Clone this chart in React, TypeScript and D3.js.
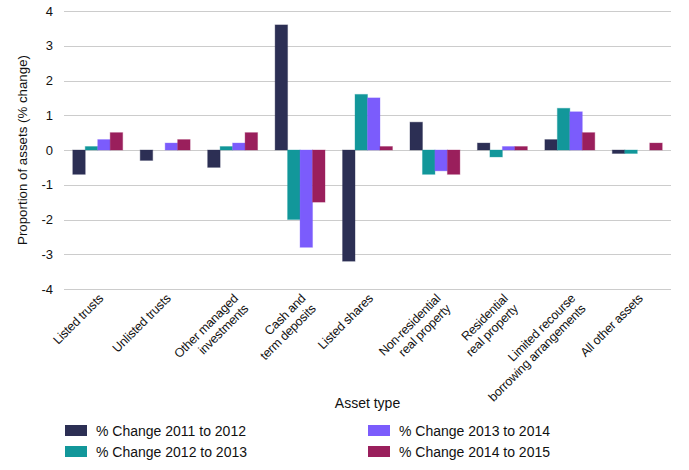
import { useEffect, useRef } from "react";
import * as d3 from "d3";

const categories = [
  "Listed trusts",
  "Unlisted trusts",
  "Other managed\ninvestments",
  "Cash and\nterm deposits",
  "Listed shares",
  "Non-residential\nreal property",
  "Residential\nreal property",
  "Limited recourse\nborrowing arrangements",
  "All other assets",
];

const seriesNames = [
  "% Change 2011 to 2012",
  "% Change 2012 to 2013",
  "% Change 2013 to 2014",
  "% Change 2014 to 2015",
];

const change2011to2012 = [-0.7, -0.3, -0.5, 3.6, -3.2, 0.8, 0.2, 0.3, -0.1];
const change2012to2013 = [0.1, 0, 0.1, -2.0, 1.6, -0.7, -0.2, 1.2, -0.1];
const change2013to2014 = [0.3, 0.2, 0.2, -2.8, 1.5, -0.6, 0.1, 1.1, 0];
const change2014to2015 = [0.5, 0.3, 0.5, -1.5, 0.1, -0.7, 0.1, 0.5, 0.2];

const seriesValues = [change2011to2012, change2012to2013, change2013to2014, change2014to2015];
const colors = ["#2c2f54", "#12979a", "#7b5cfc", "#9a1f5c"];
const yTicks = [-4, -3, -2, -1, 0, 1, 2, 3, 4];

export default function App() {
  const svgRef = useRef<SVGSVGElement>(null);

  useEffect(() => {
    if (!svgRef.current) return;
    const svg = d3.select(svgRef.current);
    svg.selectAll("*").remove();

    const font = "'Liberation Sans', Arial, Helvetica, sans-serif";
    const left = 64, right = 671, top = 11, bottom = 289;

    const x0 = d3.scaleBand<string>()
      .domain(categories)
      .range([left, right])
      .paddingInner(0.26)
      .paddingOuter(0.13);

    const x1 = d3.scaleBand<string>()
      .domain(seriesNames)
      .range([0, x0.bandwidth()]);

    const y = d3.scaleLinear().domain([-4, 4]).range([bottom, top]);

    // gridlines
    svg.append("g")
      .selectAll("line")
      .data(yTicks)
      .enter()
      .append("line")
      .attr("x1", left)
      .attr("x2", right)
      .attr("y1", (d) => Math.round(y(d)) + 0.5)
      .attr("y2", (d) => Math.round(y(d)) + 0.5)
      .style("stroke", "#cccccc")
      .style("stroke-width", 1);

    // y tick labels
    svg.append("g")
      .selectAll("text")
      .data(yTicks)
      .enter()
      .append("text")
      .attr("x", 53)
      .attr("y", (d) => y(d))
      .attr("dy", "0.35em")
      .attr("text-anchor", "end")
      .style("font-family", font)
      .style("font-size", "13px")
      .style("fill", "#111")
      .text((d) => d);

    // bars
    const groups = svg.append("g")
      .selectAll("g")
      .data(categories)
      .enter()
      .append("g")
      .attr("transform", (d) => `translate(${x0(d)},0)`);

    groups.selectAll("rect")
      .data((_, ci) => seriesNames.map((s, si) => ({ s, si, v: seriesValues[si][ci] })))
      .enter()
      .filter((d) => d.v !== 0)
      .append("rect")
      .attr("x", (d) => x1(d.s)!)
      .attr("width", x1.bandwidth())
      .attr("y", (d) => y(Math.max(0, d.v)))
      .attr("height", (d) => Math.abs(y(d.v) - y(0)))
      .style("fill", (d) => colors[d.si])
      .style("stroke", (d) => colors[d.si])
      .style("stroke-opacity", 0.35)
      .style("stroke-width", 1);

    // x tick labels
    const xl = svg.append("g")
      .selectAll("text")
      .data(categories)
      .enter()
      .append("text")
      .attr("transform", (d) => `translate(${x0(d)! + x0.bandwidth() / 2},${bottom + 4}) rotate(-45)`)
      .attr("text-anchor", "end")
      .style("font-family", font)
      .style("font-size", "12.5px")
      .style("letter-spacing", "-0.2px")
      .style("fill", "#111");

    xl.each(function (d) {
      const lines = d.split("\n");
      const t = d3.select(this);
      lines.forEach((line, i) => {
        t.append("tspan")
          .attr("x", 0)
          .attr("dy", i === 0 ? "0.71em" : "1.15em")
          .text(line);
      });
    });

    // axis titles
    svg.append("text")
      .attr("x", (left + right) / 2)
      .attr("y", 408)
      .attr("text-anchor", "middle")
      .style("font-family", font)
      .style("font-size", "14px")
      .style("fill", "#111")
      .text("Asset type");

    svg.append("text")
      .attr("transform", `translate(27,${y(0)}) rotate(-90)`)
      .attr("text-anchor", "middle")
      .style("font-family", font)
      .style("font-size", "13.3px")
      .style("fill", "#111")
      .text("Proportion of assets (% change)");

    // legend
    const legendPos = [
      { x: 65, y: 425 },
      { x: 65, y: 446 },
      { x: 368, y: 425 },
      { x: 368, y: 446 },
    ];
    const legend = svg.append("g")
      .selectAll("g")
      .data(seriesNames)
      .enter()
      .append("g")
      .attr("transform", (_, i) => `translate(${legendPos[i].x},${legendPos[i].y})`);

    legend.append("rect")
      .attr("width", 22)
      .attr("height", 11)
      .style("fill", (_, i) => colors[i]);

    legend.append("text")
      .attr("x", 31)
      .attr("y", 6)
      .attr("dy", "0.35em")
      .style("font-family", font)
      .style("font-size", "14px")
      .style("fill", "#111")
      .text((d) => d);
  }, []);

  return (
    <svg
      ref={svgRef}
      width={689}
      height={470}
      style={{ position: "absolute", left: 0, top: 0, background: "#fff" }}
    />
  );
}
